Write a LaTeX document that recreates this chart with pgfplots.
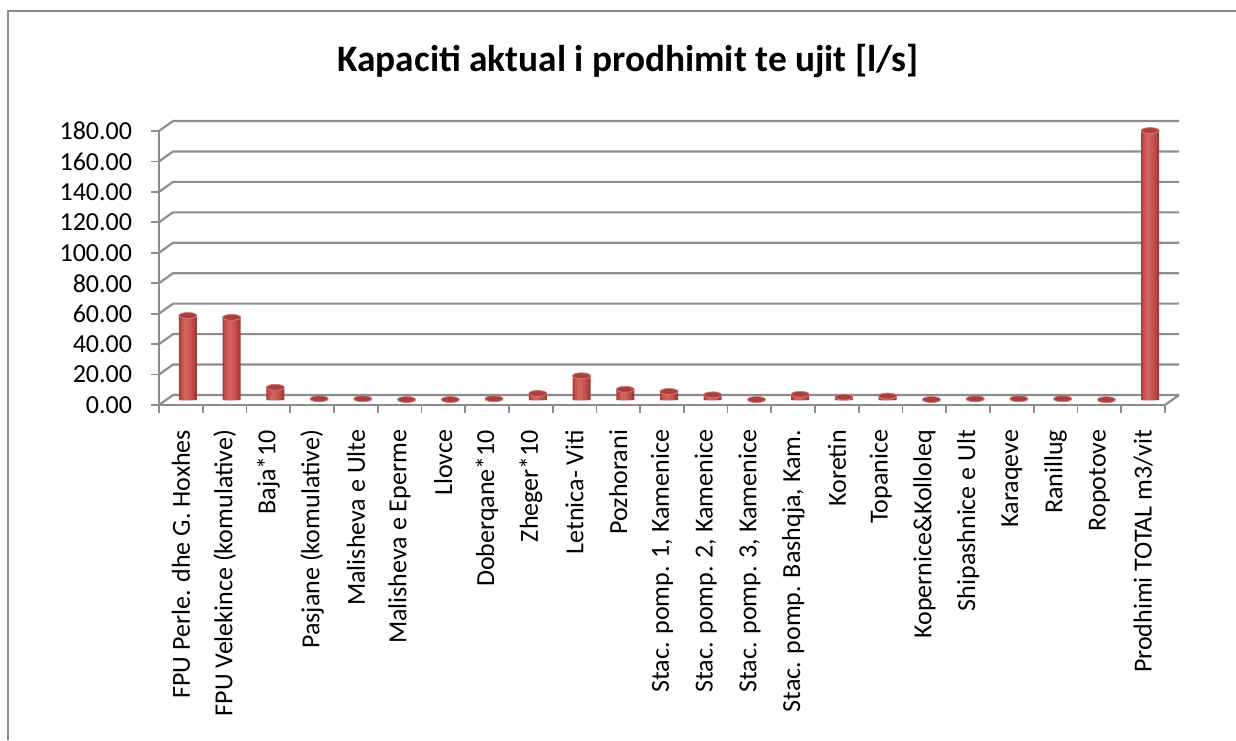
\documentclass[border=0pt]{standalone}
\usepackage{pgfplots}
\pgfplotsset{compat=1.18}
\usepackage{pgfplotstable}
\usepackage{fontspec}
\setmainfont{Carlito}
\definecolor{gridgray}{HTML}{8C8C8C}
\definecolor{barA}{HTML}{9E3C39}
\definecolor{barB}{HTML}{B84744}
\definecolor{barC}{HTML}{C8534F}
\definecolor{barD}{HTML}{D1615D}
\definecolor{barTop}{HTML}{A8403D}
\definecolor{barRim}{HTML}{D87673}

\pgfplotstableread{
x y
0 55.5
1 54.3
2 8.3
3 0.8
4 0.8
5 0.3
6 0.3
7 0.8
8 4.3
9 15.9
10 7.0
11 5.6
12 3.4
13 0.3
14 3.7
15 1.9
16 2.6
17 0.3
18 0.8
19 0.8
20 0.8
21 0.2
22 177.0
}\datatable

\begin{document}
\begin{tikzpicture}[x=1pt,y=1pt]
\useasboundingbox (0,0) rectangle (927,555);
\draw[gridgray, line width=1.2pt] (6,0) -- (6,546.75) -- (927,546.75);
\node[font=\fontsize{28}{33}\selectfont\bfseries, anchor=base, inner sep=0pt] at (471,501) {Kapaciti aktual i prodhimit te ujit [l/s]};
\begin{axis}[
  at={(119.25pt,251.25pt)}, anchor=south west,
  scale only axis, width=754.5pt, height=205.5pt,
  xmin=-0.5, xmax=22.5, ymin=0, ymax=180,
  axis x line*=bottom, axis y line*=left,
  axis line style={gridgray, line width=1.3pt},
  tick align=outside,
  major tick length=6pt, minor tick length=6pt,
  ytick={0,20,...,180},
  y tick style={gridgray, line width=1.3pt},
  xtick={0,...,22},
  minor xtick={-0.5,0.5,...,22.5},
  major x tick style={draw=none},
  minor x tick style={gridgray, line width=1.3pt},
  xticklabels={{FPU Perle. dhe G. Hoxhes},{FPU Velekince (komulative)},{Baja*10},{Pasjane (komulative)},{Malisheva e Ulte},{Malisheva e Eperme},{Llovce},{Doberqane*10},{Zheger*10},{Letnica- Viti},{Pozhorani},{Stac.  pomp. 1, Kamenice},{Stac.  pomp. 2, Kamenice},{Stac.  pomp. 3, Kamenice},{Stac. pomp. Bashqja, Kam.},{Koretin},{Topanice},{Kopernice\&Kolloleq},{Shipashnice e Ult},{Karaqeve},{Ranillug},{Ropotove},{Prodhimi TOTAL m3/vit}},
  xticklabel style={rotate=90, anchor=east, inner sep=0pt, font=\fontsize{19.5}{23}\selectfont},
  xticklabel shift=12.5pt,
  yticklabel style={anchor=east, inner sep=0pt, font=\fontsize{19.5}{23}\selectfont,
    /pgf/number format/.cd, fixed, fixed zerofill, precision=2, assume math mode=true},
  yticklabel shift=14pt,
  clip=false,
]
\pgfplotsinvokeforeach{0,20,...,180}{
  \draw[gridgray, line width=1.6pt] (axis cs:-0.5,#1) -- ++(10.5pt,7.5pt) -- ([xshift=10.5pt,yshift=7.5pt]axis cs:22.5,#1);
}
\draw[gridgray, line width=1.6pt] (axis cs:22.5,0) -- ++(10.5pt,7.5pt);
% cylinder bodies, layered for a rounded look
\addplot[ybar, bar width=13.5pt, fill=barA, draw=none, xshift=5.25pt, yshift=3.75pt] table[x=x, y=y] {\datatable};
\addplot[ybar, bar width=11pt, fill=barB, draw=none, xshift=4.8pt, yshift=3.75pt] table[x=x, y=y] {\datatable};
\addplot[ybar, bar width=8pt, fill=barC, draw=none, xshift=4.4pt, yshift=3.75pt] table[x=x, y=y] {\datatable};
\addplot[ybar, bar width=4pt, fill=barD, draw=none, xshift=4.0pt, yshift=3.75pt] table[x=x, y=y] {\datatable};
% top ellipses
\addplot[only marks, mark=*, mark size=6.75pt, mark options={solid, yscale=0.33, fill=barTop, draw=barRim, line width=0.6pt}, xshift=5.25pt, yshift=3.75pt] table[x=x, y=y] {\datatable};
\end{axis}
\end{tikzpicture}
\end{document}
